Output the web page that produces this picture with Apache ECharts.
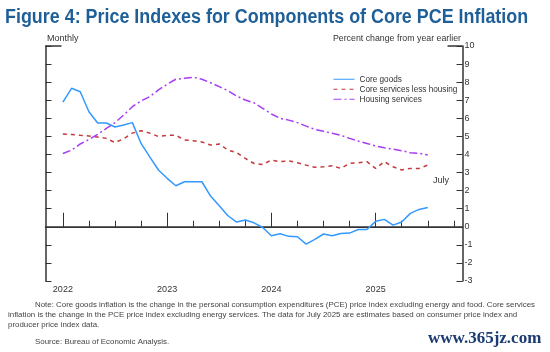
<!DOCTYPE html>
<html><head><meta charset="utf-8">
<script src="https://cdn.jsdelivr.net/npm/echarts@6/dist/echarts.min.js"></script>
<style>html,body{margin:0;padding:0;background:#fff}#c{width:550px;height:352px}</style>
</head><body><div id="c"></div>
<script>
// Axis spans Nov 2021 .. Nov 2025 (monthly)
const firstYear = 2021, firstMonth = 11;
const months = [];
for (let i = 0; i < 49; i++) {
  const m = (firstMonth - 1 + i) % 12 + 1;
  const y = firstYear + Math.floor((firstMonth - 1 + i) / 12);
  months.push(y + '-' + String(m).padStart(2, '0'));
}
const dataStart = '2022-01';
const yearLabels = ['2022', '2023', '2024', '2025'];
const yTicks = [-3, -2, -1, 0, 1, 2, 3, 4, 5, 6, 7, 8, 9, 10];

const coreGoods = [6.9, 7.66, 7.47, 6.36, 5.74, 5.74, 5.52, 5.63, 5.76, 4.61, 3.87, 3.14,
  2.68, 2.27, 2.49, 2.49, 2.49, 1.70, 1.16, 0.61, 0.26, 0.37, 0.22, -0.04,
  -0.5, -0.39, -0.53, -0.55, -0.96, -0.70, -0.40, -0.50, -0.37, -0.35, -0.15, -0.15,
  0.30, 0.41, 0.09, 0.26, 0.74, 0.96, 1.07];
const coreServices = [5.13, 5.11, 5.06, 5.02, 4.96, 4.89, 4.66, 4.87, 5.18, 5.31, 5.18, 4.99,
  5.06, 5.06, 4.80, 4.76, 4.69, 4.52, 4.58, 4.24, 4.10, 3.78, 3.50, 3.45,
  3.69, 3.60, 3.65, 3.54, 3.41, 3.29, 3.32, 3.38, 3.23, 3.51, 3.54, 3.60,
  3.23, 3.60, 3.32, 3.14, 3.23, 3.23, 3.41];
const housing = [4.05, 4.24, 4.58, 4.83, 5.11, 5.44, 5.76, 6.18, 6.64, 6.96, 7.20, 7.57,
  7.88, 8.16, 8.21, 8.27, 8.16, 7.97, 7.75, 7.53, 7.23, 7.01, 6.86, 6.55,
  6.24, 6.00, 5.90, 5.76, 5.57, 5.39, 5.28, 5.17, 5.06, 4.89, 4.74, 4.61,
  4.47, 4.37, 4.30, 4.21, 4.10, 4.06, 3.97];
const seriesNames = ['Core goods', 'Core services less housing', 'Housing services'];

const off = months.indexOf(dataStart);
const pair = arr => arr.map((v, i) => [months[i + off], v]);

const axisColor = '#333';
const textColor = '#333';
const FONT = 'Liberation Sans, Arial, sans-serif';

const chart = echarts.init(document.getElementById('c'), null, {renderer: 'canvas'});
const isQuarter = (idx) => { const m = +months[idx].slice(5); return (m - 1) % 3 === 0; };
const isYear = (idx) => months[idx].slice(5) === '01';

chart.setOption({
  animation: false,
  grid: {left: 45.5, right: 87.5, top: 46, bottom: 71},
  legend: {
    orient: 'vertical', left: 328, top: 70, itemGap: 1.5, itemWidth: 21, itemHeight: 8.5,
    itemStyle: {opacity: 0}, lineStyle: {width: 1},
    textStyle: {fontSize: 8.2, color: textColor, fontFamily: FONT, lineHeight: 8.5},
    data: seriesNames
  },
  xAxis: [{
    type: 'category', data: months, boundaryGap: false,
    axisLine: {show: true, lineStyle: {color: axisColor, width: 1.5}},
    axisTick: {show: true, inside: true, length: 6, interval: (i) => isQuarter(i), lineStyle: {color: axisColor, width: 1}},
    axisLabel: {show: true, interval: (i) => isYear(i), formatter: (v) => yearLabels[yearLabels.indexOf(v.slice(0, 4))] , fontSize: 9, color: textColor, fontFamily: FONT, margin: 4},
    splitLine: {show: false}
  }, {
    type: 'category', data: months, boundaryGap: false, position: 'bottom',
    axisLine: {show: false},
    axisTick: {show: true, inside: true, length: 14, interval: (i) => isYear(i), lineStyle: {color: axisColor, width: 1}},
    axisLabel: {show: false}, splitLine: {show: false}
  }],
  yAxis: [{
    type: 'value', min: -3, max: 10, interval: 1, position: 'left',
    axisLine: {show: true, lineStyle: {color: axisColor, width: 1.5}},
    axisTick: {show: true, inside: true, length: 6, lineStyle: {color: axisColor}},
    axisLabel: {show: false}, splitLine: {show: false}
  }, {
    type: 'value', min: -3, max: 10, interval: 1, position: 'right',
    axisLine: {show: true, lineStyle: {color: axisColor, width: 1.5}},
    axisTick: {show: true, inside: true, length: 6, lineStyle: {color: axisColor}},
    axisLabel: {show: true, fontSize: 9, color: textColor, fontFamily: FONT, margin: 2,
      formatter: (v) => String(yTicks[yTicks.indexOf(v)])},
    splitLine: {show: false}
  }],
  series: [{
    name: seriesNames[0], type: 'line', data: pair(coreGoods), symbol: 'none',
    lineStyle: {color: '#3399ff', width: 1.5}, itemStyle: {color: '#3399ff'}, z: 5,
    markLine: {symbol: 'none', silent: true, label: {show: false},
      lineStyle: {color: '#333', width: 1.2, type: 'solid'}, data: [{yAxis: 0}]}
  }, {
    name: seriesNames[1], type: 'line', data: pair(coreServices), symbol: 'none',
    lineStyle: {color: '#c4393b', width: 1.5, type: [4, 4]}, itemStyle: {color: '#c4393b'}
  }, {
    name: seriesNames[2], type: 'line', data: pair(housing), symbol: 'none',
    lineStyle: {color: '#a63cf3', width: 1.5, type: [8, 3, 2, 3]}, itemStyle: {color: '#a63cf3'}
  }]
});

const pTop = chart.convertToPixel({yAxisIndex: 0}, 10);
const pL = chart.convertToPixel({xAxisIndex: 0}, months[0]);
const pR = chart.convertToPixel({xAxisIndex: 0}, months[months.length - 1]);

chart.setOption({
  graphic: [
    {type: 'text', x: 5, y: 8, scaleX: 0.918, style: {text: 'Figure 4: Price Indexes for Components of Core PCE Inflation',
      font: 'bold 19.5px ' + FONT, fill: '#1f5f98'}},
    {type: 'text', left: 47, top: 34, style: {text: 'Monthly', font: '9px ' + FONT, fill: textColor}},
    {type: 'text', right: 89, top: 34, style: {text: 'Percent change from year earlier', font: '8.8px ' + FONT, fill: textColor, textAlign: 'right'}},
    {type: 'line', shape: {x1: pL, y1: pTop, x2: pL + 16, y2: pTop}, style: {stroke: axisColor, lineWidth: 1.5}},
    {type: 'line', shape: {x1: pR - 15, y1: pTop, x2: pR, y2: pTop}, style: {stroke: axisColor, lineWidth: 1.5}},
    {type: 'text', left: 433, top: 176, style: {text: 'July', font: '9px ' + FONT, fill: textColor}},
    {type: 'text', left: 35, top: 301, style: {
      text: 'Note: Core goods inflation is the change in the personal consumption expenditures (PCE) price index excluding energy and food. Core services',
      font: '7.9px ' + FONT, fill: '#444'}},
    {type: 'text', left: 8, top: 310.5, style: {
      text: 'inflation is the change in the PCE price index excluding energy services. The data for July 2025 are estimates based on consumer price index and\nproducer price index data.',
      font: '7.9px ' + FONT, fill: '#444', lineHeight: 9.6}},
    {type: 'text', left: 35, top: 338, style: {text: 'Source: Bureau of Economic Analysis.', font: '7.9px ' + FONT, fill: '#444'}},
    {type: 'text', left: 428, top: 330, style: {text: 'www.365jz.com', font: 'bold 17px Liberation Serif, DejaVu Serif, serif', fill: '#1b3b72'}}
  ]
});
</script></body></html>
